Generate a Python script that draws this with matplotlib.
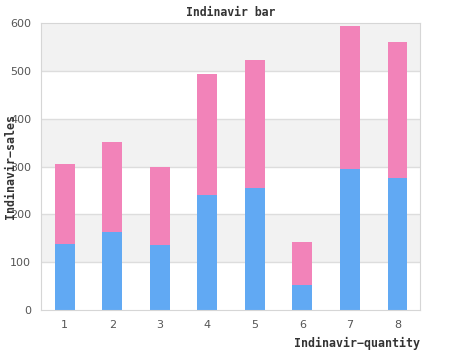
import matplotlib.pyplot as plt

quantity = [1, 2, 3, 4, 5, 6, 7, 8]
sales_low = [139, 164, 136, 240, 256, 52, 295, 277]
sales_total = [305, 351, 299, 493, 522, 143, 594, 560]
sales_high = [t - b for t, b in zip(sales_total, sales_low)]

blue = "#61a9f3"
pink = "#f283b9"

fig = plt.figure(figsize=(4.5, 3.5), dpi=100)
ax = fig.add_axes([0.091, 0.114, 0.842, 0.82])

# alternating background bands
for lo in range(0, 600, 100):
    ax.axhspan(lo, lo + 100, color="#f2f2f2" if (lo // 100) % 2 else "white", zorder=0, lw=0)
for y in range(100, 600, 100):
    ax.axhline(y, color="#dddddd", lw=1, zorder=0.5)

ax.bar(quantity, sales_low, width=0.42, color=blue, zorder=2)
ax.bar(quantity, sales_high, bottom=sales_low, width=0.42, color=pink, zorder=2)

ax.set_xlim(0.5, 8.47)
ax.set_ylim(0, 600)
ax.set_xticks(quantity)
ax.set_yticks(range(0, 601, 100))
ax.tick_params(length=0, labelsize=8, colors="#555555", pad=7)
for s in ax.spines.values():
    s.set_color("#d6d6d6")

ax.set_title("Indinavir bar", fontsize=8.3, fontweight="bold", family="DejaVu Sans Mono",
             color="#333333", pad=5)
fig.text(0.024, 0.523, "Indinavir\u2212sales", rotation=90, fontsize=8.4, fontweight="bold",
         family="DejaVu Sans Mono", color="#333333", ha="center", va="center")
fig.text(0.933, 0.0, "Indinavir\u2212quantity", fontsize=8.4, fontweight="bold",
         family="DejaVu Sans Mono", color="#333333", ha="right", va="bottom")

fig.savefig("out.png", dpi=100)
